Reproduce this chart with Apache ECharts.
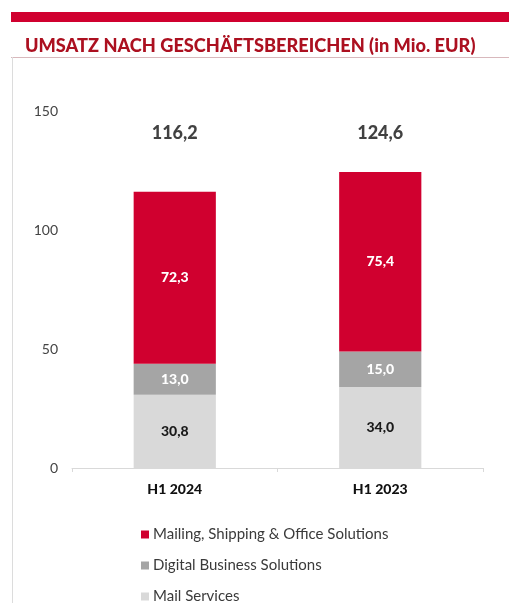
<!DOCTYPE html>
<html>
<head>
<meta charset="utf-8">
<script src="https://cdn.jsdelivr.net/npm/echarts@6/dist/echarts.min.js"></script>
<style>
html,body{margin:0;padding:0;background:#fff;}
#c{width:509px;height:603px;}
</style>
</head>
<body>
<div id="c"></div>
<script>
const categories = ['H1 2024', 'H1 2023'];
const mailServices = [30.8, 34.0];
const digitalBusiness = [13.0, 15.0];
const mailingShipping = [72.3, 75.4];
const totals = [116.2, 124.6];
const yTicks = [0, 50, 100, 150];

const TOTAL_LABEL_LEVEL = 140.5;
const fmt = v => v.toFixed(1).replace('.', ',');
const FONT = 'Lato, "Open Sans", sans-serif';

const chart = echarts.init(document.getElementById('c'), null, {renderer: 'canvas'});
chart.setOption({
  animation: false,
  backgroundColor: '#fff',
  textStyle: {fontFamily: FONT},
  title: {
    text: 'UMSATZ NACH GESCHÄFTSBEREICHEN (in Mio. EUR)',
    left: 20, top: 32,
    textStyle: {fontFamily: FONT, fontWeight: 900, fontSize: 18.2, color: '#ac1020'}
  },
  graphic: [
    {type: 'rect', shape: {x: 11, y: 12, width: 498, height: 10}, style: {fill: '#d0002f'}},
    {type: 'line', shape: {x1: 11, y1: 57.5, x2: 509, y2: 57.5}, style: {stroke: '#d8b8bc', lineWidth: 1}},
    {type: 'line', shape: {x1: 12.5, y1: 57, x2: 12.5, y2: 603}, style: {stroke: '#dcdcdc', lineWidth: 1}}
  ],
  legend: {
    orient: 'vertical',
    left: 141, top: 527, height: 100, padding: 0,
    itemWidth: 8, itemHeight: 8, itemGap: 16,
    icon: 'rect',
    data: ['Mailing, Shipping & Office Solutions', 'Digital Business Solutions', 'Mail Services'],
    textStyle: {fontFamily: FONT, fontSize: 15, lineHeight: 15, color: '#3a3a3a', padding: [0, 0, 0, -1]}
  },
  grid: {left: 72, right: 26, top: 111, bottom: 135, containLabel: false},
  xAxis: {
    type: 'category',
    data: categories,
    axisLine: {lineStyle: {color: '#d9d9d9', width: 1}},
    axisTick: {show: true, length: 4, lineStyle: {color: '#d9d9d9'}},
    axisLabel: {fontFamily: FONT, fontWeight: 900, fontSize: 14, color: '#111', margin: 14}
  },
  yAxis: {
    type: 'value',
    min: 0, max: 150, interval: 50,
    axisLine: {show: false},
    axisTick: {show: false},
    splitLine: {show: false},
    axisLabel: {fontFamily: FONT, fontSize: 14, color: '#444', margin: 14,
      formatter: v => yTicks.includes(v) ? String(v) : ''}
  },
  series: [
    {
      name: 'Mail Services', type: 'bar', stack: 'total', barWidth: '40%',
      data: mailServices,
      itemStyle: {color: '#d9d9d9'},
      label: {show: true, position: 'inside', formatter: p => fmt(p.value),
        fontFamily: FONT, fontWeight: 900, fontSize: 14, color: '#1a1a1a'}
    },
    {
      name: 'Digital Business Solutions', type: 'bar', stack: 'total',
      data: digitalBusiness,
      itemStyle: {color: '#a5a5a5'},
      label: {show: true, position: 'inside', formatter: p => fmt(p.value),
        fontFamily: FONT, fontWeight: 900, fontSize: 14, color: '#fff'}
    },
    {
      name: 'Mailing, Shipping & Office Solutions', type: 'bar', stack: 'total',
      data: mailingShipping,
      itemStyle: {color: '#d0002f'},
      label: {show: true, position: 'inside', formatter: p => fmt(p.value),
        fontFamily: FONT, fontWeight: 900, fontSize: 14, color: '#fff'}
    },
    {
      name: 'totals', type: 'scatter',
      data: totals.map(() => TOTAL_LABEL_LEVEL),
      symbolSize: 0.1,
      itemStyle: {color: 'transparent'},
      silent: true,
      label: {show: true, position: 'inside', formatter: p => fmt(totals[p.dataIndex]),
        fontFamily: FONT, fontWeight: 900, fontSize: 18, color: '#111'}
    }
  ]
});
</script>
</body>
</html>
